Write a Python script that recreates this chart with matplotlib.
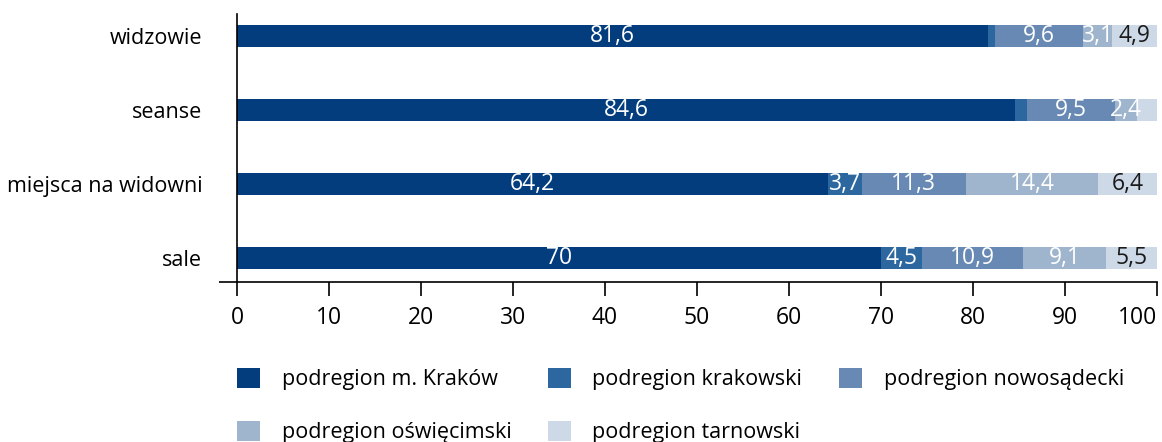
import matplotlib
matplotlib.use("Agg")
import matplotlib.pyplot as plt
import numpy as np

plt.rcParams['font.family'] = ['Open Sans', 'DejaVu Sans']

categories = ["sale", "miejsca na widowni", "seanse", "widzowie"]
series_names = ["podregion m. Kraków", "podregion krakowski", "podregion nowosądecki",
                "podregion oświęcimski", "podregion tarnowski"]
krakow = [70.0, 64.2, 84.6, 81.6]
krakowski = [4.5, 3.7, 1.3, 0.8]
nowosadecki = [10.9, 11.3, 9.5, 9.6]
oswiecimski = [9.1, 14.4, 2.4, 3.1]
tarnowski = [5.5, 6.4, 2.2, 4.9]
xticks = [0, 10, 20, 30, 40, 50, 60, 70, 80, 90, 100]

colors = ["#033d7e", "#2d67a0", "#6789b3", "#9fb5ce", "#cdd9e6"]
text_colors = ["white", "white", "white", "white", "#1a1a1a"]

W, H = 1162, 442
fig = plt.figure(figsize=(W / 100, H / 100), dpi=100)
ax = fig.add_axes([237 / W, 1 - 282 / H, (1157 - 237) / W, (282 - 14) / H])

series = [krakow, krakowski, nowosadecki, oswiecimski, tarnowski]
y = np.arange(len(categories))
left = np.zeros(len(categories))
fs_lab = 15.5
fs_num = 16.5
handles = []
for vals, name, c, tc in zip(series, series_names, colors, text_colors):
    vals = np.array(vals)
    h = ax.barh(y, vals, left=left, height=0.3, color=c, label=name, linewidth=0)
    handles.append(h)
    for yi, (l, v) in enumerate(zip(left, vals)):
        if v >= 2.3:
            ax.text(l + v / 2, yi, f"{v:g}".replace('.', ','), ha='center', va='center',
                    color=tc, fontsize=fs_num)
    left += vals

ax.set_xlim(0, 100)
ax.set_ylim(-0.32, 3.3)
ax.set_xticks(xticks)
ax.set_xticklabels([str(t) for t in xticks], fontsize=fs_num)
ax.get_xticklabels()[-1].set_horizontalalignment('right')
ax.set_yticks(y)
ax.set_yticklabels(categories, fontsize=fs_lab)
ax.tick_params(axis='y', length=0, pad=25)
ax.tick_params(axis='x', length=10, width=1.2, direction='out', pad=7)
ax.set_yticks([-0.32], minor=True)
ax.tick_params(axis='y', which='minor', length=13, width=1.2, direction='out')
for s in ['top', 'right']:
    ax.spines[s].set_visible(False)
ax.spines['left'].set_linewidth(1.2)
ax.spines['bottom'].set_linewidth(1.2)

order = [0, 3, 1, 4, 2]
fig.legend([handles[i] for i in order], [series_names[i] for i in order],
           loc='upper left', bbox_to_anchor=(237 / W, 1 - 368 / H), ncol=3, frameon=False,
           fontsize=fs_lab, handlelength=1.07, handleheight=1.07, handletextpad=1.0,
           columnspacing=1.7, labelspacing=1.42, borderaxespad=0, borderpad=0)

fig.savefig("out.png", dpi=100)
